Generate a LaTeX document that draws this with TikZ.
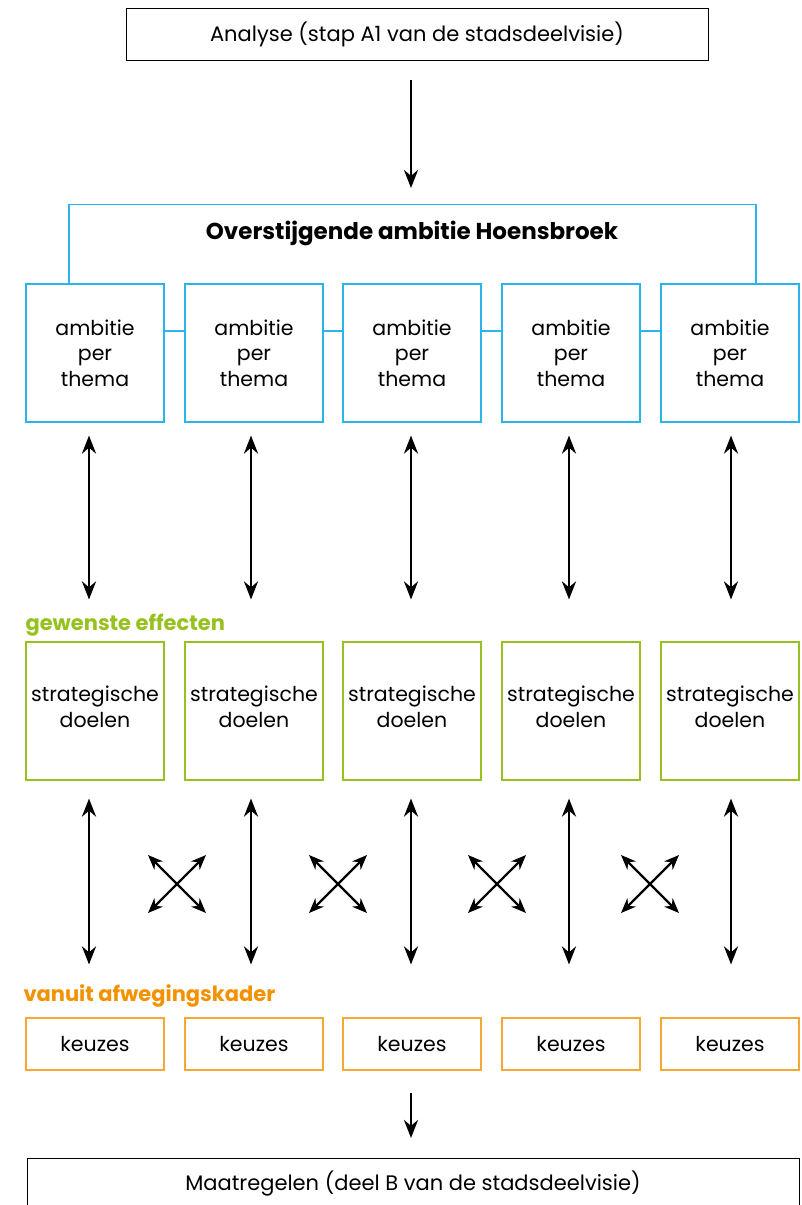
\documentclass[tikz,border=0pt]{standalone}
\usepackage{fontspec}
\setmainfont{Poppins}
\usetikzlibrary{arrows.meta,positioning,calc}

\definecolor{ambblue}{HTML}{29B5E8}
\definecolor{effgreen}{HTML}{97C11F}
\definecolor{keuzeorange}{HTML}{F39200}

\tikzset{
  stapbox/.style={draw=black,line width=0.9pt,minimum width=582pt,minimum height=52pt,
    font=\fontsize{21}{25}\selectfont},
  ambbox/.style={draw=ambblue,line width=1.1pt,minimum size=138pt,align=center,
    font=\fontsize{20.5}{25.5}\selectfont},
  doelbox/.style={ambbox,draw=effgreen},
  keuzebox/.style={ambbox,draw=keuzeorange!80,minimum height=52pt},
  ambline/.style={draw=ambblue,line width=1.1pt},
  pijl/.style={-{Stealth[length=18pt,width=14pt]},line width=2.8pt},
  dblpijl/.style={{Stealth[length=18pt,width=14pt]}-{Stealth[length=18pt,width=14pt]},line width=2.8pt},
  kruispijl/.style={{Stealth[length=15pt,width=12pt]}-{Stealth[length=15pt,width=12pt]},line width=2.2pt},
  kopje/.style={anchor=west,font=\fontsize{21}{25}\selectfont\bfseries}
}

\begin{document}
\begin{tikzpicture}[x=1pt,y=-1pt]
  \useasboundingbox (0,0) rectangle (801,1205);

  % analyse
  \node[stapbox] (analyse) at (417,34) {Analyse (stap A1 van de stadsdeelvisie)};
  \coordinate (pijlboven) at (411,188);
  \draw[pijl] ([xshift=-6pt,yshift=-20pt]analyse.south) -- (pijlboven);

  % overstijgende ambitie
  \node[font=\fontsize{23}{27}\selectfont\bfseries] (ambitie) at (412,233) {Overstijgende ambitie Hoensbroek};

  \foreach \i/\x in {1/95,2/254,3/412,4/571,5/730} {
    \node[ambbox] (amb\i) at (\x,353) {ambitie\\per\\thema};
    \node[doelbox] (doel\i) at (\x,711) {};
    \node (doeltekst\i) at (\x,707) [align=center,font=\fontsize{20.5}{25.5}\selectfont] {strategische\\doelen};
    \node[keuzebox] (keuze\i) at (\x,1044) {keuzes};
  }

  \draw[ambline] ([xshift=-26pt]amb1.north) -- ++(0,-79) -| ([xshift=26pt]amb5.north);
  \foreach \i/\j in {1/2,2/3,3/4,4/5}
    \draw[ambline] ([yshift=22pt]amb\i.east) -- ([yshift=22pt]amb\j.west);

  % kopjes
  \node[kopje,text=effgreen] (effecten) at (22,625) {gewenste effecten};
  \node[kopje,text=keuzeorange] (kader) at (20,996) {vanuit afwegingskader};

  % pijlen tussen de rijen
  \foreach \i/\dx in {1/-6,2/-3,3/-1,4/-2,5/1} {
    \draw[dblpijl] ([xshift=\dx pt,yshift=-13pt]amb\i.south) -- ([xshift=\dx pt,yshift=42pt]doel\i.north);
    \draw[dblpijl] ([xshift=\dx pt,yshift=-18pt]doel\i.south) -- ([xshift=\dx pt,yshift=53pt]keuze\i.north);
  }

  % kruisen
  \foreach \j/\x in {1/177,2/338,3/497,4/650} {
    \coordinate (kruis\j) at (\x,884);
    \draw[kruispijl] ($(kruis\j)+(-29,-29)$) -- ($(kruis\j)+(29,29)$);
    \draw[kruispijl] ($(kruis\j)+(-29,29)$) -- ($(kruis\j)+(29,-29)$);
  }

  % maatregelen
  \node[stapbox,minimum width=772pt] (maatregelen) at (413,1184) {Maatregelen (deel B van de stadsdeelvisie)};
  \coordinate (pijlonder) at (411,1138);
  \draw[pijl] ([xshift=-1pt,yshift=-22pt]keuze3.south) -- (pijlonder);
\end{tikzpicture}
\end{document}
